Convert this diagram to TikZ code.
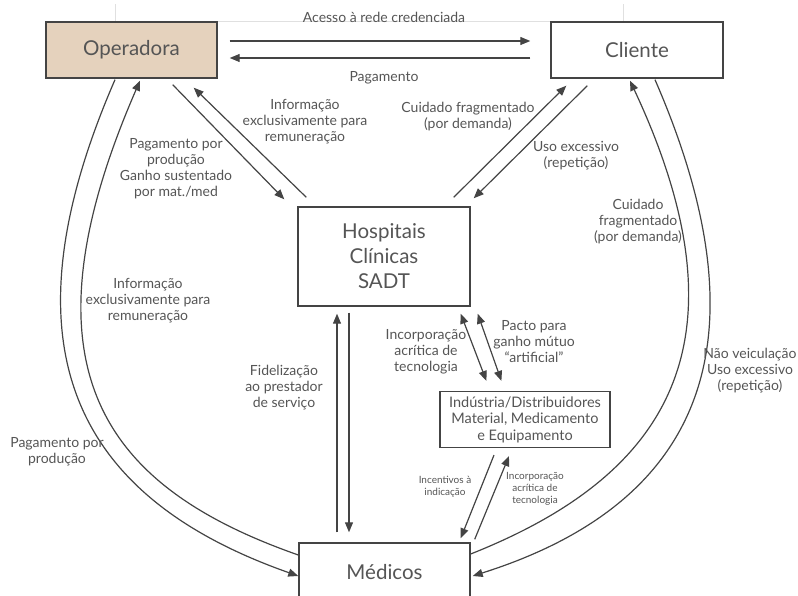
\documentclass[tikz,border=0pt]{standalone}
\usepackage{fontspec}
\setmainfont{Lato}
\usetikzlibrary{arrows.meta,calc}
\definecolor{txt}{HTML}{555555}
\definecolor{ln}{HTML}{444444}
\definecolor{tan}{HTML}{E5D2BD}
\begin{document}
\begin{tikzpicture}[x=1pt,y=-1pt,
  box/.style={draw=ln,line width=1.4pt,minimum height=56pt,inner sep=0pt,align=center,text=txt,font=\fontsize{20.5}{23}\selectfont},
  lbl/.style={align=center,text=txt,font=\fontsize{14}{16}\selectfont,inner sep=0pt},
  small/.style={align=center,text=txt,font=\fontsize{10}{12}\selectfont,inner sep=0pt},
  conn/.style={draw=ln,line width=1.2pt},
  arr/.style={conn,-{Triangle[length=10pt,width=8pt]}},
  darr/.style={conn,{Triangle[length=10pt,width=8pt]}-{Triangle[length=10pt,width=8pt]}},
  faint/.style={draw=black!12,line width=0.8pt}]
\useasboundingbox (0,0) rectangle (798,596);
% faint background frame remnants
\draw[faint] (115,4) -- (115,21) -- (551,21);
\draw[faint] (623,4) -- (623,21);
% boxes
\node[box,fill=tan,minimum width=171pt] (op) at (131.5,50) {Operadora};
\node[box,minimum width=172pt] (cl) at (637,50) {Cliente};
\node[box,minimum width=172pt,minimum height=99pt,font=\fontsize{20.5}{25}\selectfont] (hosp) at (384,256.5) {Hospitais\\Clínicas\\SADT};
\node[box,line width=1.2pt,minimum width=170pt,minimum height=56pt,font=\fontsize{14.5}{16.5}\selectfont] (ind) at (525,419.5) {Indústria/Distribuidores\\Material, Medicamento\\e Equipamento};
\node[box,minimum width=171pt,minimum height=58pt] (med) at (384.5,572) {Médicos};
% horizontal arrows
\draw[arr] ($(op.east)+(12,-9)$) -- ($(cl.west)+(-20,-9)$);
\draw[arr] ($(cl.west)+(-20,8)$) -- ($(op.east)+(12,8)$);
% Operadora - Hospitais
\draw[arr] ($(op.south east)+(-45,6)$) -- ($(hosp.north west)+(-13,-7)$);
\draw[arr] ($(hosp.north west)+(9,-9)$) -- ($(op.south east)+(-24,9)$);
% Cliente - Hospitais
\draw[arr] ($(hosp.north east)+(-17,-9)$) -- ($(cl.south west)+(16,7)$);
\draw[arr] ($(cl.south west)+(37,7)$) -- ($(hosp.north east)+(3,-8)$);
% Hospitais - Medicos
\draw[arr] ($(med.north)+(-47.5,-10)$) -- ($(hosp.south)+(-47,7)$);
\draw[arr] ($(hosp.south)+(-35,6)$) -- ($(med.north)+(-35.5,-10)$);
% Hospitais - Industria
\draw[darr] ($(hosp.south east)+(-10,7)$) -- ($(ind.north west)+(47,-10)$);
\draw[darr] ($(hosp.south east)+(7,7)$) -- ($(ind.north west)+(62,-10)$);
% Industria - Medicos
\draw[arr] ($(ind.south)+(-31,7)$) -- ($(med.north east)+(-10,-4)$);
\draw[arr] ($(med.north east)+(4,-3)$) -- ($(ind.south)+(-16,8)$);
% big arcs left
\draw[arr] ($(op.south)+(-16.5,1)$) .. controls +(-120,276) and +(-216,-76) .. ($(med.west)+(0,4)$);
\draw[arr] ($(med.west)+(0,-17)$) .. controls +(-188,-66) and +(-128,294) .. ($(op.south)+(8.5,2)$);
% big arcs right
\draw[arr] ($(cl.south)+(18,1)$) .. controls +(120,276) and +(218,-69) .. ($(med.east)+(2,4)$);
\draw[arr] ($(med.east)+(0,-18)$) .. controls +(186,-74) and +(128,273) .. ($(cl.south)+(-7,2)$);
% labels
\node[lbl] (l1) at (384,17) {Acesso à rede credenciada};
\node[lbl] (l2) at (384,78) {Pagamento};
\node[lbl] (l3) at (305,122) {Informação\\exclusivamente para\\remuneração};
\node[lbl] (l4) at (176,169) {Pagamento por\\produção\\Ganho sustentado\\por mat./med};
\node[lbl] (l5) at (468,117) {Cuidado fragmentado\\(por demanda)};
\node[lbl] (l6) at (576,156) {Uso excessivo\\(repetição)};
\node[lbl] (l7) at (638,222) {Cuidado\\fragmentado\\(por demanda)};
\node[lbl] (l8) at (750,371) {Não veiculação\\Uso excessivo\\(repetição)};
\node[lbl] (l9) at (148,301) {Informação\\exclusivamente para\\remuneração};
\node[lbl] (l10) at (57,452) {Pagamento por\\produção};
\node[lbl] (l11) at (284,388) {Fidelização\\ao prestador\\de serviço};
\node[lbl] (l12) at (426,352) {Incorporação\\acrítica de\\tecnologia};
\node[lbl] (l13) at (534,342) {Pacto para\\ganho mútuo\\“artificial”};
\node[small] (l14) at (445,487) {Incentivos à\\indicação};
\node[small] (l15) at (535,489) {Incorporação\\acrítica de\\tecnologia};
\end{tikzpicture}
\end{document}
